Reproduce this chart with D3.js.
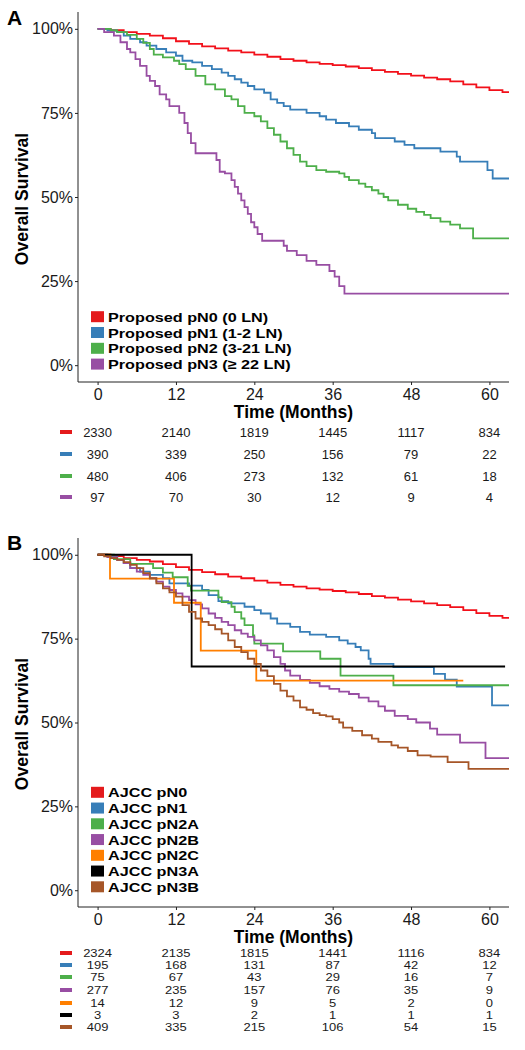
<!DOCTYPE html>
<html><head><meta charset="utf-8">
<script src="https://cdn.jsdelivr.net/npm/d3@7"></script>
<style>body{margin:0;background:#fff}svg{display:block}text{font-family:"Liberation Sans",Arial,sans-serif}</style>
</head><body>
<svg id="c" width="525" height="1050"></svg>
<script>
// ---------- DATA ----------
const timeTicks = [0, 12, 24, 36, 48, 60];
const survTicks = [0, 0.25, 0.5, 0.75, 1];

const groupsA = ["Proposed pN0 (0 LN)", "Proposed pN1 (1-2 LN)", "Proposed pN2 (3-21 LN)", "Proposed pN3 (\u2265 22 LN)"];
const colorsA = ["#E41A1C", "#377EB8", "#4DAF4A", "#984EA3"];
const riskA = [
  [2330, 2140, 1819, 1445, 1117, 834],
  [390, 339, 250, 156, 79, 22],
  [480, 406, 273, 132, 61, 18],
  [97, 70, 30, 12, 9, 4]
];
// [time (months), survival] step points
const pN0A = [[0,1],[2,0.996],[4,0.99],[6,0.985],[8,0.98],[10,0.972],[12,0.963],[14,0.955],[16,0.948],[18,0.942],[20,0.935],[22,0.93],[24,0.923],[26,0.917],[28,0.91],[30,0.905],[32,0.9],[34,0.896],[36,0.892],[38,0.888],[40,0.883],[42,0.877],[44,0.872],[46,0.866],[48,0.861],[50,0.855],[52,0.85],[54,0.844],[56,0.835],[58,0.826],[60,0.818],[62,0.812],[63,0.81]];
const pN1A = [[0,1],[1.5,0.995],[3,0.99],[4,0.98],[5,0.97],[6.5,0.96],[7.5,0.95],[9,0.94],[10.5,0.93],[12,0.92],[13,0.905],[14.5,0.9],[16,0.89],[17.5,0.88],[19,0.87],[20,0.86],[21,0.85],[22,0.84],[23,0.83],[24,0.82],[25.5,0.81],[26.5,0.79],[27.5,0.78],[28.5,0.77],[29.5,0.76],[32,0.75],[34,0.74],[35,0.73],[36.5,0.72],[38.5,0.71],[40,0.70],[42,0.69],[42.5,0.675],[45.5,0.665],[47,0.655],[48.5,0.645],[52.5,0.635],[55,0.62],[55.5,0.605],[59.7,0.58],[60.5,0.555],[63,0.555]];
const pN2A = [[0,1],[2,0.995],[3,0.99],[4.5,0.982],[6,0.97],[7,0.958],[8,0.94],[8.6,0.923],[10,0.915],[11.7,0.905],[12.5,0.895],[13.5,0.88],[15,0.86],[16.5,0.835],[18,0.82],[19.5,0.80],[20.5,0.79],[21.5,0.77],[22.5,0.75],[24,0.74],[25,0.725],[26,0.705],[27,0.685],[28,0.665],[29,0.645],[30,0.625],[31,0.605],[32,0.592],[33.5,0.58],[35,0.575],[37,0.57],[37.8,0.56],[38.5,0.55],[40,0.54],[41,0.53],[42,0.52],[43,0.51],[43.8,0.50],[44.5,0.49],[46,0.477],[47.5,0.465],[48.8,0.456],[50,0.447],[51,0.437],[52.5,0.427],[54,0.418],[55.5,0.407],[57.5,0.377],[63,0.377]];
const pN3A = [[0,1],[1,0.99],[2.5,0.98],[3.5,0.96],[4.5,0.94],[5,0.93],[5.8,0.91],[6.5,0.89],[7.5,0.86],[8,0.845],[8.8,0.83],[9.5,0.805],[10.5,0.79],[11,0.77],[12.5,0.75],[13.3,0.72],[13.8,0.69],[14.3,0.66],[15,0.63],[18.2,0.61],[18.7,0.575],[19.5,0.57],[20.5,0.55],[21,0.53],[21.5,0.51],[22,0.49],[22.5,0.47],[23,0.45],[23.5,0.425],[24,0.41],[24.5,0.39],[25.2,0.37],[28.5,0.355],[29,0.34],[30.5,0.327],[32,0.31],[33.5,0.298],[35.5,0.28],[36.3,0.263],[37,0.235],[37.8,0.213],[63,0.213]];

const groupsB = ["AJCC pN0", "AJCC pN1", "AJCC pN2A", "AJCC pN2B", "AJCC pN2C", "AJCC pN3A", "AJCC pN3B"];
const colorsB = ["#E41A1C", "#377EB8", "#4DAF4A", "#984EA3", "#FF7F00", "#000000", "#A65628"];
const riskB = [
  [2324, 2135, 1815, 1441, 1116, 834],
  [195, 168, 131, 87, 42, 12],
  [75, 67, 43, 29, 16, 7],
  [277, 235, 157, 76, 35, 9],
  [14, 12, 9, 5, 2, 0],
  [3, 3, 2, 1, 1, 1],
  [409, 335, 215, 106, 54, 15]
];
const pN0B = [[0,1],[2,0.996],[4,0.99],[6,0.985],[8,0.98],[10,0.972],[12,0.963],[14,0.955],[16,0.948],[18,0.942],[20,0.935],[22,0.93],[24,0.923],[26,0.917],[28,0.91],[30,0.905],[32,0.9],[34,0.896],[36,0.892],[38,0.888],[40,0.883],[42,0.877],[44,0.872],[46,0.866],[48,0.861],[50,0.855],[52,0.85],[54,0.844],[56,0.835],[58,0.826],[60,0.818],[62,0.812],[63,0.81]];
const pN1B = [[0,1],[1.5,0.995],[3,0.985],[4,0.975],[5,0.96],[6.5,0.95],[8,0.94],[10,0.93],[11,0.915],[14,0.908],[16,0.895],[17,0.88],[18.5,0.862],[20,0.855],[22.5,0.845],[24,0.835],[25,0.825],[26.5,0.81],[27.5,0.795],[29.5,0.785],[31,0.77],[32.5,0.762],[35,0.755],[37,0.745],[38.3,0.735],[39.5,0.725],[40.3,0.715],[41.5,0.69],[41.8,0.675],[45.3,0.665],[51.5,0.645],[53.2,0.628],[55,0.607],[60.4,0.551],[63,0.551]];
const pN2AB = [[0,1],[2.5,0.987],[5,0.973],[8.5,0.96],[10,0.947],[11.5,0.933],[13.8,0.907],[14.3,0.893],[18.5,0.873],[19,0.859],[20.5,0.845],[21,0.829],[22,0.81],[22.5,0.79],[23.8,0.76],[24,0.735],[28.4,0.712],[34.1,0.69],[37.2,0.64],[45.3,0.611],[63,0.611]];
const pN2BB = [[0,1],[1.5,0.993],[3,0.985],[4,0.975],[5,0.96],[6,0.95],[7,0.94],[8,0.93],[9,0.92],[10,0.905],[11,0.895],[12,0.885],[13,0.875],[14,0.865],[15,0.852],[16,0.84],[17,0.825],[18,0.812],[19,0.8],[20,0.79],[21,0.775],[22,0.765],[23,0.755],[24,0.745],[25,0.73],[26,0.715],[27,0.695],[28,0.675],[28.7,0.655],[29.5,0.64],[31,0.627],[32.5,0.618],[34,0.608],[35.5,0.6],[37,0.592],[38.5,0.585],[40,0.574],[41.5,0.563],[43,0.548],[44,0.535],[45.5,0.52],[47.5,0.51],[48.8,0.5],[50.9,0.482],[52,0.464],[55.5,0.44],[59.4,0.394],[63,0.394]];
const pN2CB = [[0,1],[1.9,0.929],[11.7,0.857],[15.8,0.714],[24.3,0.625],[56,0.625]];
const pN3AB = [[0,1],[14.4,0.667],[62.4,0.667]];
const pN3BB = [[0,1],[1,0.995],[2,0.99],[3,0.985],[4,0.978],[5,0.97],[6,0.96],[7,0.945],[8,0.93],[9,0.915],[10,0.9],[11,0.888],[12,0.875],[13,0.85],[14,0.83],[15,0.81],[16,0.8],[17,0.79],[18,0.778],[19,0.765],[20,0.745],[21,0.725],[22,0.71],[23,0.69],[24,0.675],[25,0.655],[26,0.638],[27,0.615],[28,0.595],[29,0.578],[30,0.565],[31,0.545],[32,0.538],[33,0.528],[34,0.522],[35,0.518],[36,0.51],[37,0.5],[37.6,0.485],[39,0.475],[40.5,0.462],[42,0.452],[43,0.442],[45,0.432],[46,0.425],[47.5,0.415],[49,0.402],[51,0.398],[53.6,0.382],[56.8,0.362],[63,0.362]];

const curvesA = [pN0A, pN1A, pN2A, pN3A];
const curvesB = [pN0B, pN1B, pN2AB, pN2BB, pN2CB, pN3AB, pN3BB];

// ---------- DRAW ----------
const svg = d3.select("#c");
const FONT = '"Liberation Sans",Arial,sans-serif';
const lineColor = c => c === "#E41A1C" ? "#f2101a" : c;

function panel(cfg) {
  const {top, bottom, letter, letterY, curves, colors, groups, risk, legendY, legendStep, titleY, tickY, riskY, riskScale, ylabY, id} = cfg;
  const x = d3.scaleLinear().domain([-3, 63]).range([78, 509]);
  const y = d3.scaleLinear().domain([-0.05, 1.05]).range([bottom, top]);
  const g = svg.append("g");

  g.append("defs").append("clipPath").attr("id", id)
    .append("rect").attr("x", 78).attr("y", top).attr("width", 431).attr("height", bottom - top);

  const line = d3.line().x(d => x(d[0])).y(d => y(d[1])).curve(d3.curveStepAfter);
  const cg = g.append("g").attr("clip-path", `url(#${id})`);
  curves.forEach((c, i) => {
    cg.append("path").attr("d", line(c)).attr("fill", "none")
      .attr("stroke", lineColor(colors[i])).attr("stroke-width", 1.8);
  });

  // axes
  const ya = g.append("g").attr("transform", "translate(78,0)")
    .call(d3.axisLeft(y).tickValues(survTicks).tickFormat(d3.format(".0%")).tickSize(3).tickSizeOuter(0));
  ya.select(".domain").attr("d", `M0,${top}V${bottom}`);
  const xa = g.append("g").attr("transform", `translate(0,${bottom})`)
    .call(d3.axisBottom(x).tickValues(timeTicks).tickSize(3).tickSizeOuter(0));
  xa.select(".domain").attr("d", `M78,0H509`);
  [ya, xa].forEach(a => {
    a.selectAll("path,line").attr("stroke", "#222").attr("stroke-width", 1);
    a.selectAll("text").attr("font-family", FONT).attr("font-size", 16).attr("fill", "#1a1a1a");
  });
  ya.selectAll("text").attr("x", -5);
  xa.selectAll("text").attr("dy", null).attr("y", tickY - bottom);

  // titles
  g.append("text").attr("x", 293.5).attr("y", titleY).attr("text-anchor", "middle")
    .attr("font-size", 17.5).attr("font-weight", "bold").text("Time (Months)");
  g.append("text").attr("transform", `translate(28,${ylabY}) rotate(-90)`).attr("text-anchor", "middle")
    .attr("font-size", 17.5).attr("font-weight", "bold").text("Overall Survival");
  g.append("text").attr("x", 7).attr("y", letterY).attr("font-size", 21).attr("font-weight", "bold").text(letter);

  // legend
  groups.forEach((name, i) => {
    const cy = legendY + i * legendStep;
    g.append("rect").attr("x", 91).attr("y", cy - 5.5).attr("width", 13).attr("height", 11).attr("fill", colors[i]);
    g.append("text").attr("transform", `translate(108,${cy}) scale(1,0.84)`)
      .attr("y", 6).attr("font-size", 16.2).attr("font-weight", "bold").text(name);
  });

  // risk table
  risk.forEach((row, i) => {
    const cy = riskY[i];
    g.append("rect").attr("x", 60).attr("y", cy - 2).attr("width", 12).attr("height", 4).attr("fill", colors[i]);
    row.forEach((v, j) => {
      g.append("text")
        .attr("transform", `translate(${x(timeTicks[j])},${cy}) scale(1,${riskScale})`)
        .attr("y", 4.6).attr("text-anchor", "middle")
        .attr("font-size", 13).attr("fill", "#1a1a1a").text(v);
    });
  });
}

panel({id: "clipA", top: 12, bottom: 382, letter: "A", letterY: 25, curves: curvesA, colors: colorsA, groups: groupsA,
  risk: riskA, riskScale: 1, legendY: 316.7, legendStep: 15.8, tickY: 400, titleY: 418, riskY: [432, 454, 476, 497], ylabY: 199});
panel({id: "clipB", top: 538, bottom: 907, letter: "B", letterY: 550, curves: curvesB, colors: colorsB, groups: groupsB,
  risk: riskB, riskScale: 0.82, legendY: 792.3, legendStep: 15.75, tickY: 925, titleY: 943, riskY: [953, 965, 977, 990, 1003, 1015, 1027], ylabY: 724});
</script>
</body></html>
